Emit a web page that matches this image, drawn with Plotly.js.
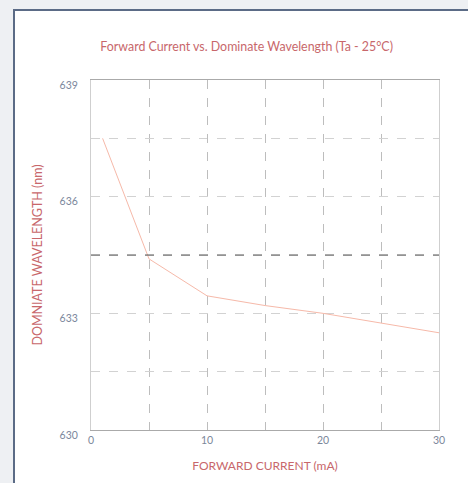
<!DOCTYPE html>
<html><head><meta charset="utf-8">
<script src="https://cdn.plot.ly/plotly-3.0.1.min.js"></script>
<style>
html,body{margin:0;padding:0;width:468px;height:483px;background:#eef0f3;overflow:hidden;}
#card{position:absolute;left:13px;top:9px;width:470px;height:490px;background:#fff;border-left:2px solid #5b6b86;border-top:2px solid #5b6b86;}
#chart{position:absolute;left:0;top:0;width:468px;height:483px;}
</style></head>
<body>
<div id="card"></div>
<div id="chart"></div>
<script>
const current = [1, 5, 10, 15, 20, 30];
const wavelength = [637.5, 634.4, 633.45, 633.2, 633.0, 632.5];
const yTicks = [630, 633, 636, 639];
const xTicks = [0, 10, 20, 30];
const refLine = 634.5;

const red = '#c8676b';
const tickCol = '#7b879b';

const trace = {
  x: current, y: wavelength, type: 'scatter', mode: 'lines',
  line: {color: '#f6b9a9', width: 1}, hoverinfo: 'skip'
};

const layout = {
  width: 468, height: 483,
  margin: {l: 91, r: 29, t: 80, b: 53},
  paper_bgcolor: 'rgba(0,0,0,0)', plot_bgcolor: '#fff',
  showlegend: false,
  font: {family: 'Lato, sans-serif'},
  title: {text: 'Forward Current vs. Dominate Wavelength (Ta - 25°C)',
    font: {size: 12.4, color: red, family: 'Lato, sans-serif'},
    x: 0.527, xref: 'container', xanchor: 'center', y: 1 - 47/483, yref: 'container', yanchor: 'middle'},
  xaxis: {
    range: [0, 30], tickvals: xTicks, ticktext: xTicks.map(String),
    showline: true, linecolor: '#aaaaaa', linewidth: 1, mirror: true,
    showgrid: true, gridcolor: '#bdbdbd', griddash: 'dash', gridwidth: 1,
    minor: {dtick: 5, tick0: 0, showgrid: true, gridcolor: '#bdbdbd', griddash: 'dash', gridwidth: 1},
    zeroline: false, ticks: '',
    tickfont: {size: 10.5, color: tickCol},
    title: {text: 'FORWARD CURRENT (mA)', font: {size: 12, color: red}, standoff: 17}
  },
  yaxis: {
    range: [630, 639], tickvals: yTicks, ticktext: yTicks.map(String),
    showline: true, linecolor: '#cfcfcf', linewidth: 1, mirror: true,
    showgrid: true, gridcolor: '#d2d2d2', griddash: 'dash', gridwidth: 1,
    minor: {dtick: 1.5, tick0: 630, showgrid: true, gridcolor: '#d2d2d2', griddash: 'dash', gridwidth: 1},
    zeroline: false, ticks: '',
    ticklabelstandoff: 10, ticklabelshift: 5,
    tickfont: {size: 10.5, color: tickCol},
    title: {text: 'DOMNIATE WAVELENGTH (nm)', font: {size: 12.5, color: red}, standoff: 14}
  },
  shapes: [{type: 'line', xref: 'paper', x0: 0, x1: 1, yref: 'y', y0: refLine, y1: refLine,
    line: {color: '#555555', width: 1.2, dash: 'dash'}, layer: 'above'}]
};

Plotly.newPlot('chart', [trace], layout, {displayModeBar: false, staticPlot: true});
</script>
</body></html>
